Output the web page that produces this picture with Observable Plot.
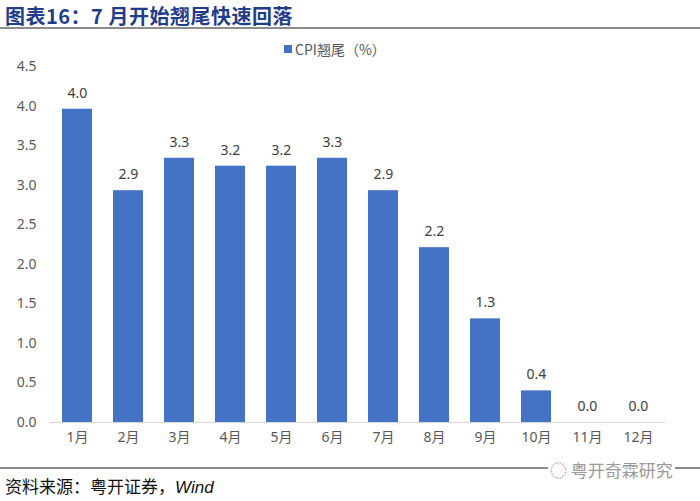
<!DOCTYPE html>
<html><head><meta charset="utf-8">
<script src="https://cdn.jsdelivr.net/npm/d3@7"></script>
<script src="https://cdn.jsdelivr.net/npm/@observablehq/plot@0.6"></script>
<style>
body{margin:0;background:#fff;font-family:"Noto Sans","Noto Sans CJK SC",sans-serif;}
#wrap{position:relative;width:700px;height:501px;overflow:hidden;background:#fff;}
#title{position:absolute;left:5px;top:1px;font-size:20px;font-weight:bold;color:#1f3d8a;font-family:"Noto Sans CJK SC",sans-serif;letter-spacing:0.5px;}
#tline{position:absolute;left:0;top:27px;width:700px;height:2px;background:#8c8c8c;}
#legend{position:absolute;left:284px;top:39px;font-size:14px;color:#595959;font-family:"Noto Sans CJK SC",sans-serif;display:flex;align-items:center;}
#legend span.sw{display:inline-block;width:8px;height:8px;background:#4472c4;margin-right:3px;}
#chart{position:absolute;left:0;top:30px;}
#bline{position:absolute;left:0;top:467px;width:700px;height:2px;background:#8c8c8c;}
#source{position:absolute;left:5px;top:473px;font-size:17px;color:#111;font-family:"Noto Sans CJK SC",sans-serif;}
#wm{position:absolute;left:548px;top:457px;font-size:17px;color:#9a9a9a;background:#fff;padding:0 2px;font-family:"Noto Sans CJK SC",sans-serif;}
</style></head>
<body><div id="wrap">
<div id="title">图表16：7 月开始翘尾快速回落</div>
<div id="tline"></div>
<div id="legend"><span class="sw"></span>CPI翘尾（%）</div>
<div id="chart"></div>
<div id="bline"></div>
<div id="wm">◌ 粤开奇霖研究</div>
<div id="source">资料来源：粤开证券，<i style="font-family:'Liberation Sans',sans-serif">Wind</i></div>
</div>
<script>
const months = ["1月","2月","3月","4月","5月","6月","7月","8月","9月","10月","11月","12月"];
const values = [3.96,2.93,3.34,3.24,3.24,3.34,2.93,2.21,1.31,0.40,0,0];
const yTicks = [0,0.5,1,1.5,2,2.5,3,3.5,4,4.5];
const data = months.map((m,i)=>({month:m,value:values[i]}));
const chart = Plot.plot({
  width:700, height:440,
  marginTop:36, marginBottom:48, marginLeft:50, marginRight:35,
  style:{fontFamily:"'Noto Sans','Noto Sans CJK SC',sans-serif",fontSize:"14px",color:"#595959",background:"transparent"},
  x:{domain:months, paddingInner:0.414, paddingOuter:0.207, label:null, tickSize:0, tickPadding:10},
  y:{domain:[0,4.5], ticks:yTicks, label:null, tickSize:0, tickPadding:14, tickFormat:d3.format(".1f")},
  marks:[
    Plot.barY(data,{x:"month",y:"value",fill:"#4472c4"}),
    Plot.ruleY([0],{stroke:"#d9d9d9",strokeWidth:1}),
    Plot.text(data,{x:"month",y:"value",text:d=>d3.format(".1f")(d.value),dy:-16,fill:"#404040",fontSize:14})
  ]
});
document.getElementById("chart").appendChild(chart);
</script>
</body></html>
